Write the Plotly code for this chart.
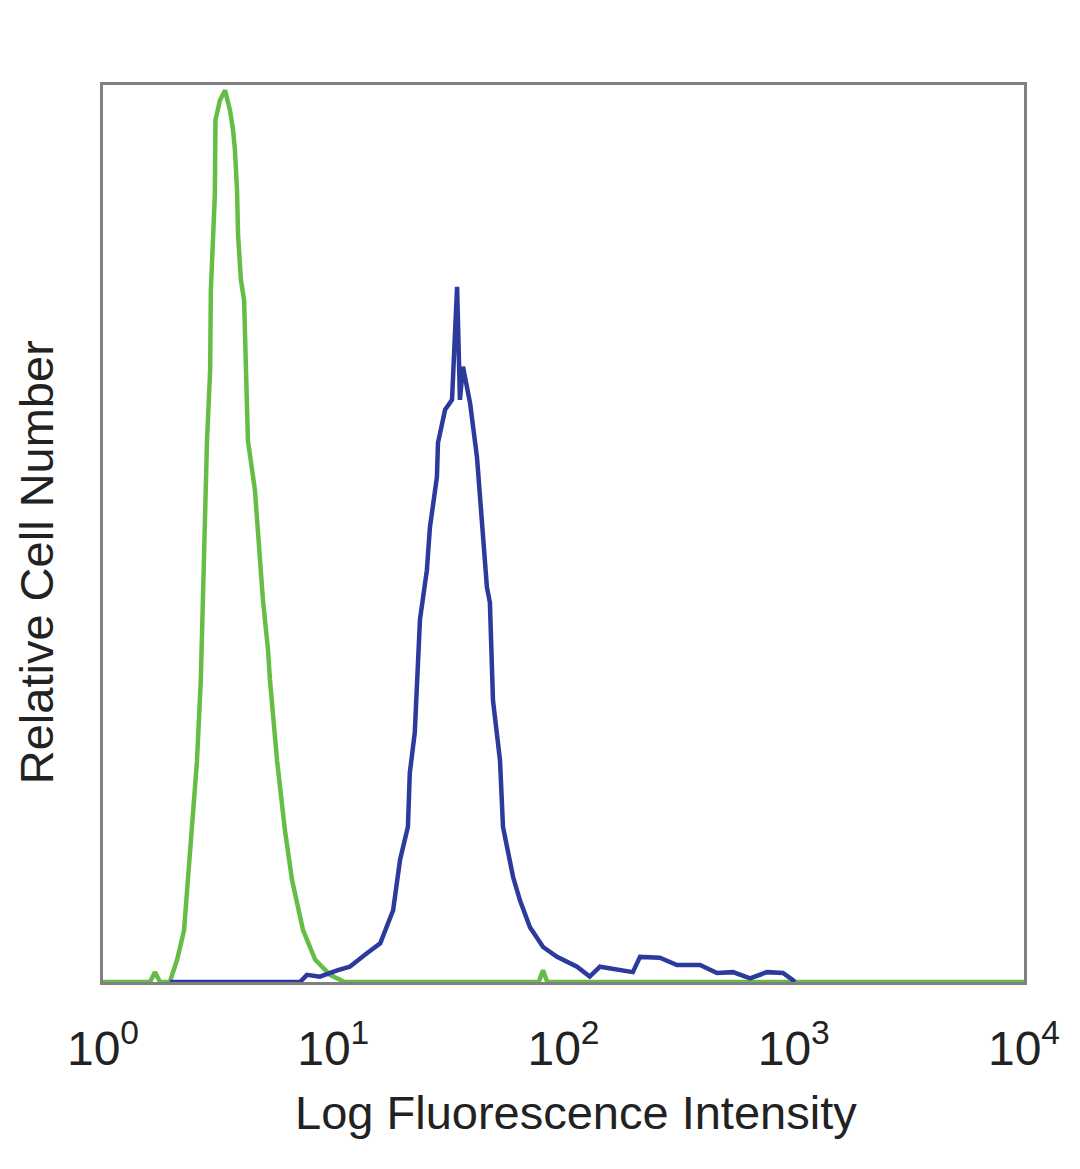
import plotly.graph_objects as go

# Green histogram (control): intensity, relative count
green_x = [1.0, 1.60, 1.68, 1.77, 1.95, 2.10, 2.25, 2.34, 2.44, 2.56, 2.66, 2.72, 2.83, 2.92,
           2.94, 3.06, 3.08, 3.22, 3.39, 3.56, 3.67, 3.74, 3.82, 3.86, 3.97, 4.10, 4.14, 4.18,
           4.26, 4.57, 4.81, 4.95, 5.21, 5.31, 5.70, 6.17, 6.62, 7.39, 8.34, 9.68, 11.2,
           78.0, 81.5, 85.0, 10000.0]
green_y = [0, 0, 1.1, 0, 0, 2.5, 5.8, 11.4, 16.9, 24.7, 33.7, 43.7, 60.4, 68.2,
           77.1, 87.7, 96.1, 98.3, 99.4, 97.2, 95.0, 92.8, 88.3, 83.3, 78.3, 76.0, 70.5, 67.1,
           60.4, 54.8, 47.0, 42.6, 37.0, 33.7, 24.7, 16.9, 11.4, 5.8, 2.5, 0.8, 0,
           0, 1.3, 0, 0]

# Blue histogram (stained sample)
blue_x = [1.95, 7.17, 7.69, 8.75, 10.4, 11.8, 14.0, 16.0, 18.2, 19.5, 21.1, 21.5, 22.6, 23.3,
          23.8, 25.5, 26.3, 28.2, 28.5, 30.6, 32.8, 34.5, 35.5, 36.6, 38.5, 39.3, 42.1, 44.3,
          46.5, 47.9, 48.9, 49.4, 53.0, 54.6, 60.4, 64.7, 71.5, 81.5, 93.7, 114.5, 130, 144,
          200, 215, 262, 311, 392, 464, 545, 646, 765, 898, 993, 1010]
blue_y = [0, 0, 0.8, 0.6, 1.3, 1.7, 3.2, 4.3, 8.0, 13.6, 17.3, 23.3, 27.8, 35.9,
          40.4, 45.9, 50.7, 56.3, 60.1, 63.8, 64.9, 77.5, 64.9, 68.6, 66.0, 64.5, 58.5, 50.4,
          44.0, 42.3, 34.8, 31.4, 24.7, 17.3, 11.7, 9.1, 6.1, 3.9, 2.8, 1.7, 0.6, 1.7,
          1.1, 2.8, 2.7, 1.9, 1.9, 1.0, 1.1, 0.4, 1.1, 1.0, 0.2, 0]

tick_vals = [1, 10, 100, 1000, 10000]
tick_text = ["10<sup>0</sup>", "10<sup>1</sup>", "10<sup>2</sup>", "10<sup>3</sup>", "10<sup>4</sup>"]

fig = go.Figure()
fig.add_trace(go.Scatter(x=green_x, y=green_y, mode="lines",
                         line=dict(color="#66bd45", width=4.5),
                         showlegend=False))
fig.add_trace(go.Scatter(x=blue_x, y=blue_y, mode="lines",
                         line=dict(color="#2b3a9c", width=4.5),
                         showlegend=False))

fig.update_layout(
    width=1080, height=1169,
    margin=dict(l=95, r=64, t=77, b=195),
    paper_bgcolor="white", plot_bgcolor="white",
    font=dict(family="Liberation Sans, Arial, sans-serif", color="#222"),
    xaxis=dict(type="log", range=[0, 4], tickvals=tick_vals, ticktext=tick_text,
               showgrid=False, zeroline=False, ticks="", showline=True, mirror=True,
               linecolor="#808080", linewidth=3, ticklabelstandoff=22,
               tickfont=dict(size=48, color="#222",
                             family="Liberation Sans Narrow, Arial Narrow, Liberation Sans, sans-serif")),
    yaxis=dict(range=[0, 100], showgrid=False, zeroline=False, ticks="",
               showticklabels=False, showline=True, mirror=True,
               linecolor="#808080", linewidth=3),
    annotations=[
        dict(text="Log Fluorescence Intensity", xref="paper", yref="paper",
             x=0.5136, y=-0.146, xanchor="center", yanchor="middle", showarrow=False,
             font=dict(size=47, color="#222")),
        dict(text="Relative Cell Number", xref="paper", yref="paper",
             x=-0.0727, y=0.468, xanchor="center", yanchor="middle", showarrow=False,
             textangle=-90, font=dict(size=47, color="#222")),
    ],
)

fig.write_html("out.html")
